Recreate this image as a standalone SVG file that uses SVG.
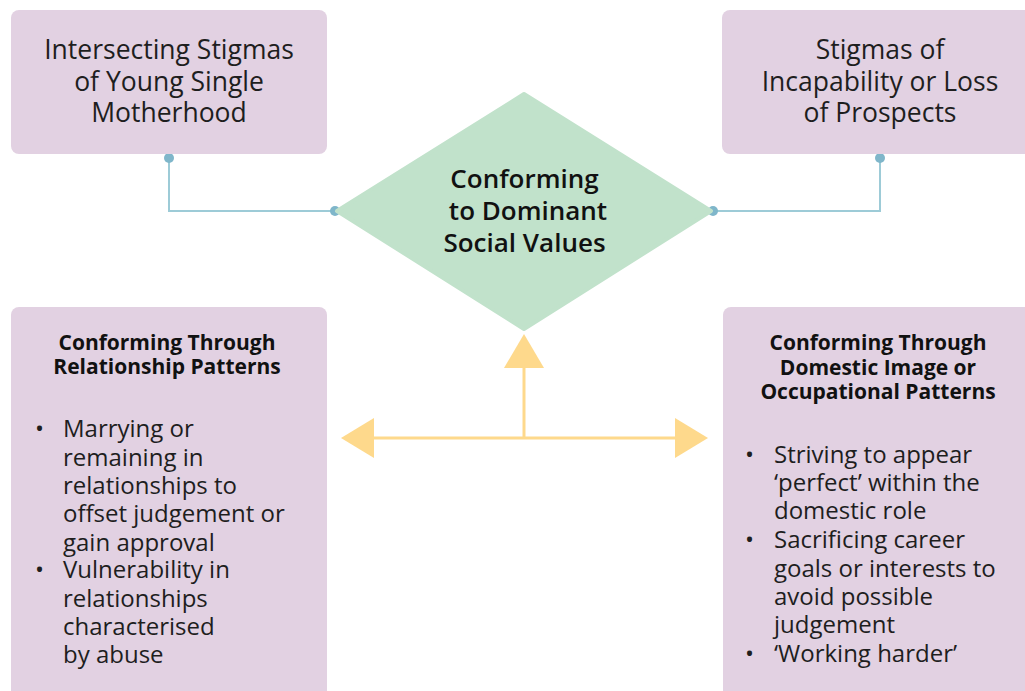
<svg xmlns="http://www.w3.org/2000/svg" width="1025" height="691" viewBox="0 0 1025 691">
  <defs>
    <style>
      .box { fill: #e2d1e2; }
      .diamond { fill: #c1e2cb; stroke: #c1e2cb; stroke-width: 4; stroke-linejoin: round; }
      .link { fill: none; stroke: #9dcbd7; stroke-width: 2; }
      .dot { fill: #7fb6ca; }
      .flow { fill: none; stroke: #fed98c; stroke-width: 3; }
      .head { fill: #fed98c; }
      text { font-family: "Open Sans", "Noto Sans", "Liberation Sans", sans-serif; fill: #1e1e1e; }
      .title { font-size: 26.5px; text-anchor: middle; }
      .center { font-size: 26px; font-weight: 600; text-anchor: middle; fill: #111; }
      .heading { font-size: 21px; font-weight: 700; text-anchor: middle; fill: #111; }
      .item { font-size: 24px; }
    </style>
  </defs>

  <rect width="1025" height="691" fill="#ffffff"/>

  <!-- connectors -->
  <g id="connectors">
    <polyline class="link" points="169,158 169,211 335,211"/>
    <polyline class="link" points="880,158 880,211 713,211"/>
    <circle class="dot" cx="169" cy="158" r="5"/>
    <circle class="dot" cx="880" cy="158" r="5"/>
    <circle class="dot" cx="335" cy="211" r="5"/>
    <circle class="dot" cx="713" cy="211" r="5"/>
    <!-- yellow branching arrows -->
    <line class="flow" x1="524" y1="438" x2="524" y2="366"/>
    <line class="flow" x1="372" y1="438" x2="676" y2="438"/>
    <polygon class="head" points="524,334 544,368 504,368"/>
    <polygon class="head" points="341,438 374,418 374,458"/>
    <polygon class="head" points="708,438 675,418 675,458"/>
  </g>

  <!-- top left node -->
  <g id="node-young-single-motherhood">
    <rect class="box" x="11" y="10" width="316" height="144" rx="8"/>
    <text class="title" x="169" y="59">Intersecting Stigmas</text>
    <text class="title" x="169" y="91">of Young Single</text>
    <text class="title" x="169" y="122">Motherhood</text>
  </g>

  <!-- top right node -->
  <g id="node-incapability">
    <rect class="box" x="722" y="10" width="316" height="144" rx="8"/>
    <text class="title" x="880" y="59">Stigmas of</text>
    <text class="title" x="880" y="91">Incapability or Loss</text>
    <text class="title" x="880" y="122">of Prospects</text>
  </g>

  <!-- central diamond -->
  <g id="node-conforming">
    <polygon class="diamond" points="337,211 524,94 711,211 524,329"/>
    <text class="center" x="524.5" y="188">Conforming</text>
    <text class="center" x="528" y="220">to Dominant</text>
    <text class="center" x="524.5" y="252">Social Values</text>
  </g>

  <!-- bottom left node -->
  <g id="node-relationship-patterns">
    <rect class="box" x="11" y="307" width="316" height="400" rx="8"/>
    <text class="heading" x="167" y="350">Conforming Through</text>
    <text class="heading" x="167" y="374">Relationship Patterns</text>
    <text class="item" x="35" y="437">•</text>
    <text class="item" x="63" y="437">Marrying or</text>
    <text class="item" x="63" y="466">remaining in</text>
    <text class="item" x="63" y="494">relationships to</text>
    <text class="item" x="63" y="522">offset judgement or</text>
    <text class="item" x="63" y="551">gain approval</text>
    <text class="item" x="35" y="578">•</text>
    <text class="item" x="63" y="578">Vulnerability in</text>
    <text class="item" x="63" y="607">relationships</text>
    <text class="item" x="63" y="635">characterised</text>
    <text class="item" x="63" y="663">by abuse</text>
  </g>

  <!-- bottom right node -->
  <g id="node-domestic-occupational">
    <rect class="box" x="723" y="307" width="316" height="400" rx="8"/>
    <text class="heading" x="878" y="350">Conforming Through</text>
    <text class="heading" x="878" y="375">Domestic Image or</text>
    <text class="heading" x="878" y="399">Occupational Patterns</text>
    <text class="item" x="745" y="463">•</text>
    <text class="item" x="774" y="463">Striving to appear</text>
    <text class="item" x="774" y="491">‘perfect’ within the</text>
    <text class="item" x="774" y="519">domestic role</text>
    <text class="item" x="745" y="548">•</text>
    <text class="item" x="774" y="548">Sacrificing career</text>
    <text class="item" x="774" y="577">goals or interests to</text>
    <text class="item" x="774" y="605">avoid possible</text>
    <text class="item" x="774" y="633">judgement</text>
    <text class="item" x="745" y="662">•</text>
    <text class="item" x="774" y="662">‘Working harder’</text>
  </g>
</svg>
